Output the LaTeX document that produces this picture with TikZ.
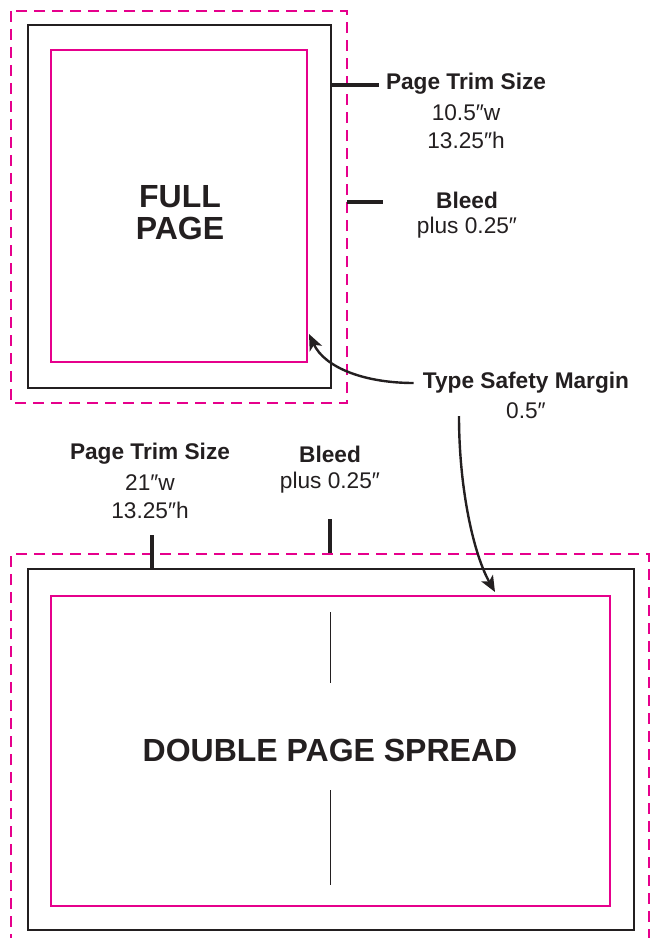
\documentclass[tikz,border=0pt]{standalone}
\usepackage{fontspec}
\setmainfont{Liberation Sans}
\usetikzlibrary{arrows.meta}

\definecolor{bleedpink}{RGB}{230,0,140}
\definecolor{inkblack}{RGB}{35,31,32}

\tikzset{
  bleedframe/.style={draw=bleedpink, line width=1.6pt, dash pattern=on 8pt off 5.5pt},
  trimframe/.style={draw=inkblack, line width=2.1pt},
  safeframe/.style={draw=bleedpink, line width=2.1pt},
  tickmark/.style={draw=inkblack, line width=2.6pt},
  foldmark/.style={draw=inkblack, line width=0.7pt},
  pointer/.style={draw=inkblack, line width=1.8pt, -{Stealth[length=12pt,width=10pt,inset=3pt]}},
  headlbl/.style={inner sep=0.75pt, text=inkblack, font=\fontsize{17}{21}\selectfont\bfseries},
  infolbl/.style={inner sep=0.75pt, text=inkblack, align=center, font=\fontsize{17}{21}\selectfont},
  titlelbl/.style={inner sep=0.75pt, text=inkblack, align=center, font=\fontsize{24}{24}\selectfont\bfseries}
}

\begin{document}
\begin{tikzpicture}[x=0.75pt,y=0.75pt,yscale=-1,xscale=1]
\useasboundingbox (0,0) rectangle (652,938);

%Shape: Rectangle [full page bleed]
\draw [bleedframe] (11,11) rectangle (347,403);
%Shape: Rectangle [full page trim]
\draw [trimframe] (28,25) rectangle (331,388);
%Shape: Rectangle [full page safety]
\draw [safeframe] (51,50) rectangle (307,362);

%Shape: Rectangle [spread bleed, runs off the bottom]
\draw [bleedframe] (11,945) -- (11,554) -- (649,554) -- (649,945);
%Shape: Rectangle [spread trim]
\draw [trimframe] (28,569) rectangle (634,930);
%Shape: Rectangle [spread safety]
\draw [safeframe] (51,596) rectangle (610,906);

%Straight Lines [spread fold]
\draw [foldmark] (330,612) -- (330,683);
\draw [foldmark] (330,790) -- (330,885);

% Text Node
\node [titlelbl] (fullpage) at (180,213) {FULL\\PAGE};
% Text Node
\node [titlelbl] (spread) at (330,750) {DOUBLE PAGE SPREAD};

% Text Node
\node [headlbl] (trimhead) at (466,84) {Page Trim Size};
\node [infolbl] (trimsub) at (466,127) {10.5″w\\13.25″h};
% Text Node
\node [headlbl] (bleedhead) at (467,200) {Bleed};
\node [infolbl] (bleedsub) at (467,228) {plus 0.25″};
% Text Node
\node [headlbl] (safehead) at (526,383) {Type Safety Margin};
\node [infolbl] (safesub) at (526,411) {0.5″};

% Text Node
\node [headlbl] (sptrimhead) at (150,454) {Page Trim Size};
\node [infolbl] (sptrimsub) at (150,497) {21″w\\13.25″h};
% Text Node
\node [headlbl] (spbleedhead) at (330,454) {Bleed};
\node [infolbl] (spbleedsub) at (330,483) {plus 0.25″};

%Straight Lines [ticks]
\coordinate (trimtickA) at (331,85);   \coordinate (trimtickB) at (379,85);
\coordinate (bleedtickA) at (347,202); \coordinate (bleedtickB) at (383,202);
\coordinate (sptrimA) at (152,569);    \coordinate (sptrimB) at (152,535);
\coordinate (spbleedA) at (330,553);   \coordinate (spbleedB) at (330,519);
\draw [tickmark] (trimtickA) -- (trimtickB);
\draw [tickmark] (bleedtickA) -- (bleedtickB);
\draw [tickmark] (sptrimA) -- (sptrimB);
\draw [tickmark] (spbleedA) -- (spbleedB);

%Curve Lines [safety pointers]
\coordinate (safetipA) at (309,334);
\coordinate (safestartB) at (459,416);
\coordinate (safetipB) at (495,592);
\draw [pointer] ([xshift=-6]safehead.west) .. controls (365,383) and (325,368) .. (safetipA);
\draw [pointer] (safestartB) .. controls (459,490) and (474,555) .. (safetipB);

\end{tikzpicture}
\end{document}
